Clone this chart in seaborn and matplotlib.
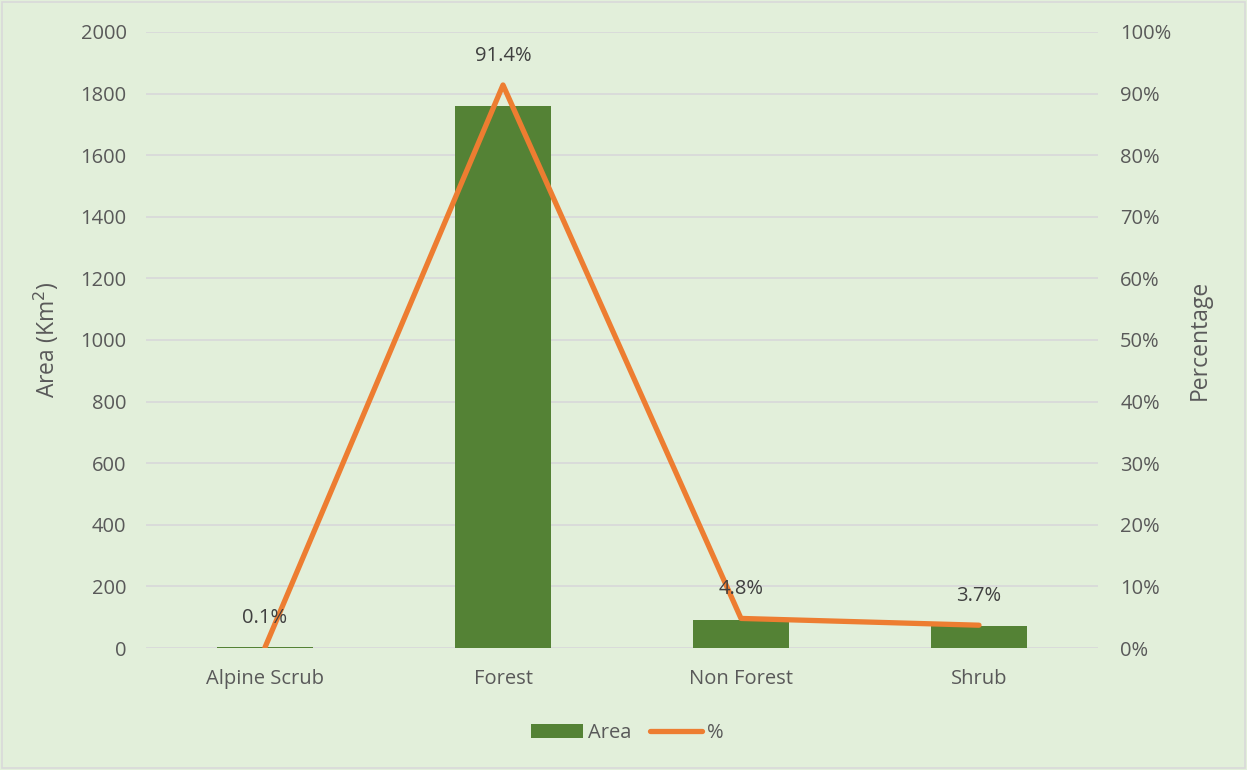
import matplotlib
matplotlib.use("Agg")
import matplotlib.pyplot as plt
import seaborn as sns
import pandas as pd
from matplotlib.patches import Patch, Rectangle
from matplotlib.lines import Line2D
from matplotlib.ticker import FuncFormatter, MultipleLocator

# Land cover classes, area in km² and share of total area
categories = ["Alpine Scrub", "Forest", "Non Forest", "Shrub"]
area_km2 = [2, 1760, 92, 71]
percent = [0.1, 91.4, 4.8, 3.7]

df = pd.DataFrame({"Class": categories, "Area": area_km2, "Percent": percent})

bg = "#E2EFDA"
text_col = "#595959"
bar_col = "#548235"
line_col = "#ED7D31"
grid_col = "#D9D9D9"

sns.set_theme(style="white")
plt.rcParams["font.family"] = ["Open Sans", "DejaVu Sans"]

fs = 14.5

fig = plt.figure(figsize=(12.47, 7.70), dpi=100, facecolor=bg)
ax = fig.add_axes([146 / 1247, 1 - 648 / 770, (1098 - 146) / 1247, (648 - 32) / 770])
ax.set_facecolor(bg)

sns.barplot(data=df, x="Class", y="Area", color=bar_col, width=0.4,
            saturation=1, edgecolor="none", linewidth=0, ax=ax, zorder=2)
ax.set_ylim(0, 2000)
ax.yaxis.set_major_locator(MultipleLocator(200))
ax.set_xlim(-0.5, 3.5)
ax.grid(axis="y", color=grid_col, linewidth=1.3, zorder=0)
ax.set_axisbelow(True)
for s in ax.spines.values():
    s.set_visible(False)
ax.tick_params(axis="both", length=0, colors=text_col, labelsize=fs, pad=14)
ax.tick_params(axis="x", pad=15)
ax.set_xlabel("")
ax.set_ylabel("Area (Km$^2$)", color=text_col, fontsize=16.5, labelpad=14)

ax2 = ax.twinx()
sns.lineplot(data=df, x="Class", y="Percent", color=line_col, linewidth=3.8,
             ax=ax2, sort=False, solid_capstyle="round", zorder=3)
ax2.set_ylim(0, 100)
ax2.yaxis.set_major_locator(MultipleLocator(10))
ax2.yaxis.set_major_formatter(FuncFormatter(lambda v, p: f"{v:.0f}%"))
for s in ax2.spines.values():
    s.set_visible(False)
ax2.tick_params(axis="y", length=0, colors=text_col, labelsize=fs, pad=16)
ax2.set_ylabel("Percentage", color=text_col, fontsize=16.5, labelpad=12)
ax2.set_xlim(-0.5, 3.5)

for i, p in enumerate(percent):
    ax2.annotate(f"{p}%", (i, p), xytext=(0, 14), textcoords="offset points",
                 ha="center", va="bottom", color="#404040", fontsize=fs)

handles = [Patch(facecolor=bar_col, edgecolor="none", label="Area"),
           Line2D([0], [0], color=line_col, linewidth=3.8, solid_capstyle="round", label="%")]
fig.legend(handles=handles, loc="center", bbox_to_anchor=(0.503, 1 - 733 / 770),
           ncol=2, frameon=False, fontsize=fs, labelcolor=text_col,
           handlelength=2.6, handleheight=0.75, columnspacing=0.9, handletextpad=0.25)

fig.patches.append(Rectangle((0.002, 0.002), 0.996, 0.995, transform=fig.transFigure,
                             fill=False, edgecolor=grid_col, linewidth=1.2))

fig.savefig("out.png", dpi=100, facecolor=bg)
